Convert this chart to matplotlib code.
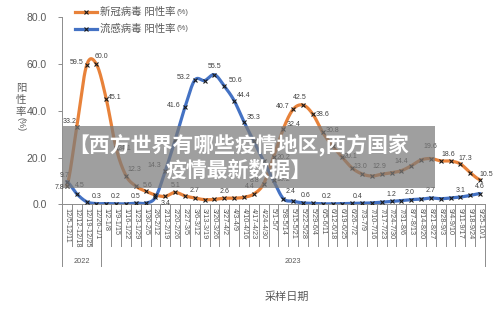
import numpy as np
import matplotlib
matplotlib.use('Agg')
import matplotlib.pyplot as plt
from matplotlib.lines import Line2D
from matplotlib.patches import Rectangle

weeks = ['12/5-12/11', '12/12-12/18', '12/19-12/25', '12/26-1/1', '1/2-1/8', '1/9-1/15',
         '1/16-1/22', '1/23-1/29', '1/30-2/5', '2/6-2/12', '2/13-2/19', '2/20-2/26',
         '2/27-3/5', '3/6-3/12', '3/13-3/19', '3/20-3/26', '3/27-4/2', '4/3-4/9',
         '4/10-4/16', '4/17-4/23', '4/24-4/30', '5/1-5/7', '5/8-5/14', '5/15-5/21',
         '5/22-5/28', '5/29-6/4', '6/5-6/11', '6/12-6/18', '6/19-6/25', '6/26-7/2',
         '7/3-7/9', '7/10-7/16', '7/17-7/23', '7/24-7/30', '7/31-8/6', '8/7-8/13',
         '8/14-8/20', '8/21-8/27', '8/28-9/3', '9/4-9/10', '9/11-9/17', '9/18-9/24',
         '9/25-10/1']
covid = [7.8, 33.2, 59.5, 60.0, 45.1, 24.1, 12.3, 7.8, 5.6, 4.0, 3.4, 5.1,
         3.6, 2.7, 2.0, 2.1, 2.6, 2.6, 3.0, 4.4, 8.8, 20.2, 32.4, 40.7,
         42.5, 38.6, 30.8, 25.0, 20.1, 15.5, 13.0, 12.1, 12.9, 13.5, 14.4, 16.5,
         19.0, 19.6, 18.6, 18.5, 17.3, 13.5, 10.5]
flu = [9.7, 4.5, 1.1, 0.3, 0.3, 0.2, 0.2, 0.5, 0.5, 3.0, 14.3, 27.5,
       41.6, 53.2, 53.0, 55.5, 50.6, 44.4, 35.3, 27.0, 18.5, 10.2, 2.4, 1.3,
       0.6, 0.4, 0.2, 0.2, 0.3, 0.4, 0.4, 0.6, 0.9, 1.2, 1.6, 2.0,
       2.2, 2.7, 2.4, 2.7, 3.1, 3.8, 4.6]
years = ['2022', '2023']
year_counts = [4, 39]
series_names = ['新冠病毒 阳性率', '流感病毒 阳性率']
y_ticks = [0, 20, 40, 60, 80]

# label placement (pixel offsets, alignment) — styling only
covid_lab = {0: (-3, -1, 'right'), 1: (-7, 5, 'center'), 2: (-3, 3, 'right'),
             3: (5, 8, 'center'), 4: (2, 1, 'left'), 5: (2, 0, 'left'),
             6: (2, 6, 'left'), 8: (2, 6, 'center'), 10: (0, -7, 'center'),
             11: (0, 7, 'center'), 13: (0, 7, 'center'), 16: (0, 7, 'center'),
             19: (-4, 8, 'center'), 20: (-9, 3, 'center'), 21: (3, 0, 'left'),
             22: (3, 4, 'left'), 23: (-4, 3, 'right'), 24: (-3, 8, 'center'),
             25: (3, 0, 'left'), 26: (3, 2, 'left'), 28: (1, 1, 'left'),
             30: (-2, 7, 'center'), 32: (-2, 8, 'center'), 34: (0, 9, 'center'),
             37: (-1, 12, 'center'), 38: (1, 6, 'left'), 40: (5, 5, 'center'),
             42: (6, 5, 'center')}
flu_lab = {0: (-2, 6, 'center'), 1: (3, 8, 'center'), 3: (0, 7, 'center'),
           5: (0, 7, 'center'), 7: (0, 7, 'center'), 10: (-4, 5, 'right'),
           12: (-4, 2, 'right'), 13: (-4, 3, 'right'), 15: (0, 8, 'center'),
           16: (4, 6, 'left'), 17: (3, 5, 'left'), 18: (3, 4, 'left'),
           21: (3, 1, 'left'), 22: (2, 7, 'left'), 24: (3, 7, 'center'),
           26: (4, 7, 'center'), 29: (5, 7, 'center'), 33: (0, 7, 'center'),
           35: (-2, 7, 'center'), 37: (0, 7, 'center'), 40: (0, 7, 'center'),
           42: (0, 7, 'center')}

ORANGE = '#E8823A'
BLUE = '#4472C4'
GRAY = '#595959'
AXC = '#8C8C8C'

plt.rcParams['font.family'] = ['Liberation Sans', 'Noto Sans CJK SC', 'DejaVu Sans']

W, H = 500, 315
fig = plt.figure(figsize=(W / 100, H / 100), dpi=100)
ax_l, ax_r, ax_t, ax_b = 62, 485, 17.5, 204.3
ax = fig.add_axes([ax_l / W, 1 - ax_b / H, (ax_r - ax_l) / W, (ax_b - ax_t) / H])
n = len(weeks)
x = np.arange(n)


def smooth(vals, k=20):
    y = np.asarray(vals, float)
    yp = np.concatenate([[y[0]], y, [y[-1]]])
    m = (yp[2:] - yp[:-2]) / 2.0
    xs, ys = [], []
    t = np.linspace(0, 1, k, endpoint=False)
    h00 = 2 * t**3 - 3 * t**2 + 1
    h10 = t**3 - 2 * t**2 + t
    h01 = -2 * t**3 + 3 * t**2
    h11 = t**3 - t**2
    for i in range(len(y) - 1):
        xs.append(i + t)
        ys.append(h00 * y[i] + h10 * m[i] + h01 * y[i + 1] + h11 * m[i + 1])
    xs.append([len(y) - 1])
    ys.append([y[-1]])
    return np.concatenate(xs), np.concatenate(ys)


for vals, col, labs in [(covid, ORANGE, covid_lab), (flu, BLUE, flu_lab)]:
    sx, sy = smooth(vals)
    ax.plot(sx, sy, color=col, lw=2.3, solid_capstyle='round', zorder=3)
    ax.plot(x, vals, ls='none', marker='x', ms=2.6, mew=0.8, color='#1a1a1a', zorder=4)
    for i, (dx, dy, ha) in labs.items():
        ax.annotate(f'{vals[i]:.1f}', (x[i], vals[i]), xytext=(dx * 0.72, dy * 0.72),
                    textcoords='offset points', ha=ha, va='center', fontsize=5,
                    color='#404040', zorder=5)

ax.set_xlim(-0.5, n - 0.5)
ax.set_ylim(0, 80)
ax.set_yticks(y_ticks)
ax.set_yticklabels([f'{v:.1f}' for v in y_ticks], fontsize=7.5, color=GRAY)
ax.tick_params(axis='y', direction='out', length=3, width=0.7, color=AXC, pad=8)
for s in ['top', 'right']:
    ax.spines[s].set_visible(False)
for s in ['left', 'bottom']:
    ax.spines[s].set_color(AXC)
    ax.spines[s].set_linewidth(0.7)

ax.set_xticks(x)
ax.set_xticklabels(weeks, rotation=-90, fontsize=5.3, color=GRAY, va='top', ha='center')
ax.tick_params(axis='x', length=0, pad=2.5)

ah = ax_b - ax_t
short_end = -(246 - ax_b) / ah
long_end = -(266 - ax_b) / ah
tr = ax.get_xaxis_transform()
bounds = np.cumsum([0] + year_counts) - 0.5
for b in np.arange(n + 1) - 0.5:
    end = long_end if np.any(np.isclose(bounds, b)) else short_end
    ax.plot([b, b], [0, end], transform=tr, color=AXC, lw=0.7, clip_on=False, zorder=1)
for yr, s, e in zip(years, bounds[:-1], bounds[1:]):
    ax.text((s + e) / 2, -(261.5 - ax_b) / ah, yr, transform=tr, ha='center', va='center',
            fontsize=5.3, color=GRAY)

# axis titles
fig.text(287 / W, 1 - 297 / H, '采样日期', ha='center', va='center', fontsize=8, color=GRAY)
for ch, yy in zip(['阳', '性', '率'], [88, 100, 111.5]):
    fig.text(21 / W, 1 - yy / H, ch, ha='center', va='center', fontsize=7.5, color=GRAY)
fig.text(21 / W, 1 - 124 / H, '(%)', ha='center', va='center', fontsize=6.5,
         color=GRAY, rotation=-90)

# legend
for name, col, yy in [(series_names[0], ORANGE, 12), (series_names[1], BLUE, 29)]:
    fig.add_artist(Line2D([75 / W, 97 / W], [1 - yy / H, 1 - yy / H], color=col, lw=2.3,
                          transform=fig.transFigure))
    fig.add_artist(Line2D([86 / W], [1 - yy / H], marker='x', ms=2.6, mew=0.8,
                          color='#1a1a1a', transform=fig.transFigure))
    t = fig.text(100 / W, 1 - yy / H, name, ha='left', va='center', fontsize=7.5, color=GRAY)
    fig.canvas.draw()
    bb = t.get_window_extent()
    fig.text(bb.x1 / W + 0.002, 1 - yy / H, '(%)', ha='left', va='center', fontsize=5.5,
             color=GRAY)

# overlay banner
fig.add_artist(Rectangle((63 / W, 1 - 188 / H), (435 - 63) / W, (188 - 126) / H,
                         transform=fig.transFigure, facecolor='#7a7a7a', alpha=0.72,
                         edgecolor='none', zorder=10))
fig.text(239 / W, 1 - 145 / H, '【西方世界有哪些疫情地区,西方国家', ha='center', va='center',
         fontsize=15, fontweight='bold', color='white', zorder=11,
         family=['Noto Sans CJK SC', 'DejaVu Sans'])
fig.text(239 / W, 1 - 170 / H, '疫情最新数据】', ha='center', va='center',
         fontsize=15, fontweight='bold', color='white', zorder=11,
         family=['Noto Sans CJK SC', 'DejaVu Sans'])

fig.savefig('out.png', dpi=100)
